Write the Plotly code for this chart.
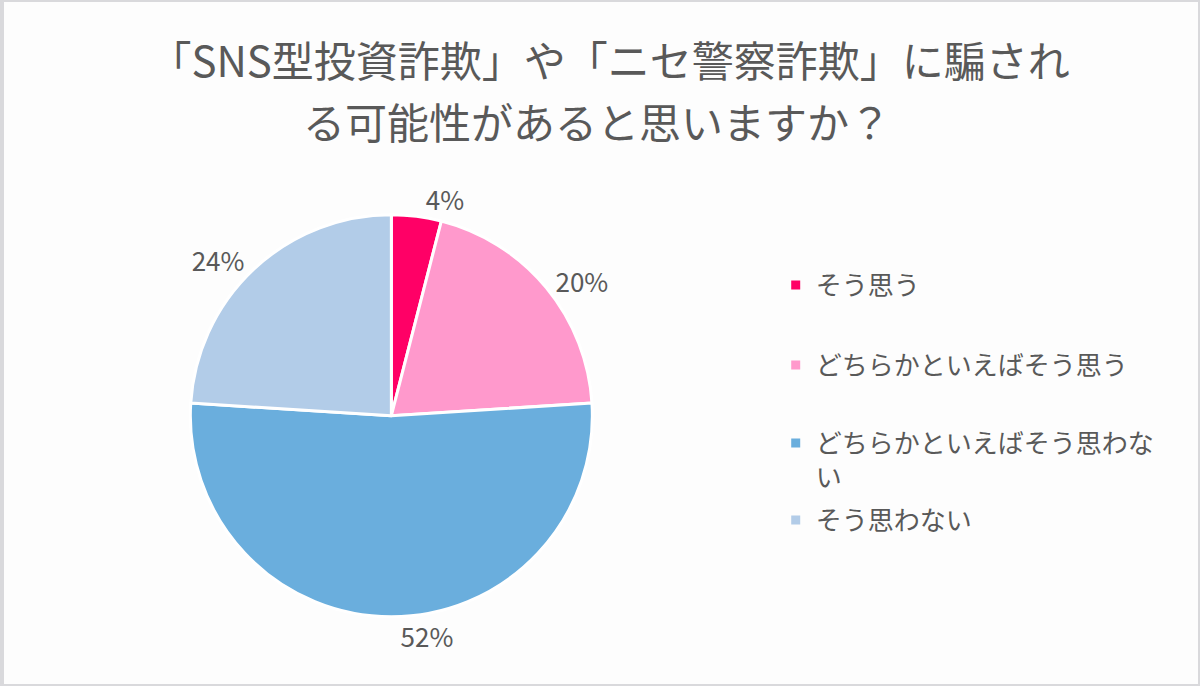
import plotly.graph_objects as go

# data
categories = ["そう思う", "どちらかといえばそう思う", "どちらかといえばそう思わない", "そう思わない"]
values = [4, 20, 52, 24]
colors = ["#ff0066", "#ff99cc", "#6aaedd", "#b2cce8"]

title_lines = ["「SNS型投資詐欺」や「ニセ警察詐欺」に騙され", "る可能性があると思いますか？"]
FONT = "Noto Sans CJK JP"
GREY = "#595959"


def wrap(label, n=13):
    # the legend breaks long labels onto a second line
    return label if len(label) <= n else label[:n] + "<br>" + label[n:]


fig = go.Figure()

fig.add_trace(go.Pie(
    labels=categories,
    values=values,
    sort=False,
    direction="clockwise",
    rotation=0,
    marker=dict(colors=colors, line=dict(color="white", width=3)),
    texttemplate="%{percent:.0%}",
    textposition="outside",
    textfont=dict(size=26, color=GREY, family=FONT),
    showlegend=False,
    hoverinfo="label+percent",
    domain=dict(x=[0.08, 0.57], y=[0.101, 0.687]),
))

# legend entries, one legend box per entry so the spacing can follow the reference
legend_y = [285, 365, 460, 520]
for i, (cat, col) in enumerate(zip(categories, colors)):
    name = "legend" if i == 0 else f"legend{i + 1}"
    fig.add_trace(go.Scatter(
        x=[None], y=[None], mode="markers", name=wrap(cat),
        marker=dict(symbol="square", size=9, color=col),
        legend=name, hoverinfo="skip",
    ))
    fig.update_layout({name: dict(
        x=775 / 1200, xanchor="left",
        y=1 - legend_y[i] / 686, yanchor="middle",
        valign="top",
        font=dict(size=26, color=GREY, family=FONT),
        bgcolor="rgba(0,0,0,0)", itemclick=False, itemdoubleclick=False,
    )})

# title is wrapped over two lines with a looser line gap than plotly's <br>
fig.update_layout(
    width=1200, height=686,
    margin=dict(l=0, r=0, t=0, b=0),
    paper_bgcolor="#fdfdfd",
    plot_bgcolor="#fdfdfd",
    xaxis=dict(visible=False),
    yaxis=dict(visible=False),
    title=dict(
        text=title_lines[0], x=0.508, xanchor="center", y=1 - 62 / 686, yanchor="middle",
        font=dict(size=42, color=GREY, family=FONT),
    ),
    annotations=[dict(
        text=title_lines[1], xref="paper", yref="paper", x=0.497, y=1 - 120 / 686,
        xanchor="center", yanchor="middle", showarrow=False,
        font=dict(size=42, color=GREY, family=FONT),
    )],
    shapes=[dict(
        type="rect", xref="paper", yref="paper", x0=0, y0=0, x1=1, y1=1,
        line=dict(color="#d9d9dc", width=4),
    )],
)

fig.write_html("out.html", config={"displayModeBar": False},
               post_script="document.body.style.margin='0';")
